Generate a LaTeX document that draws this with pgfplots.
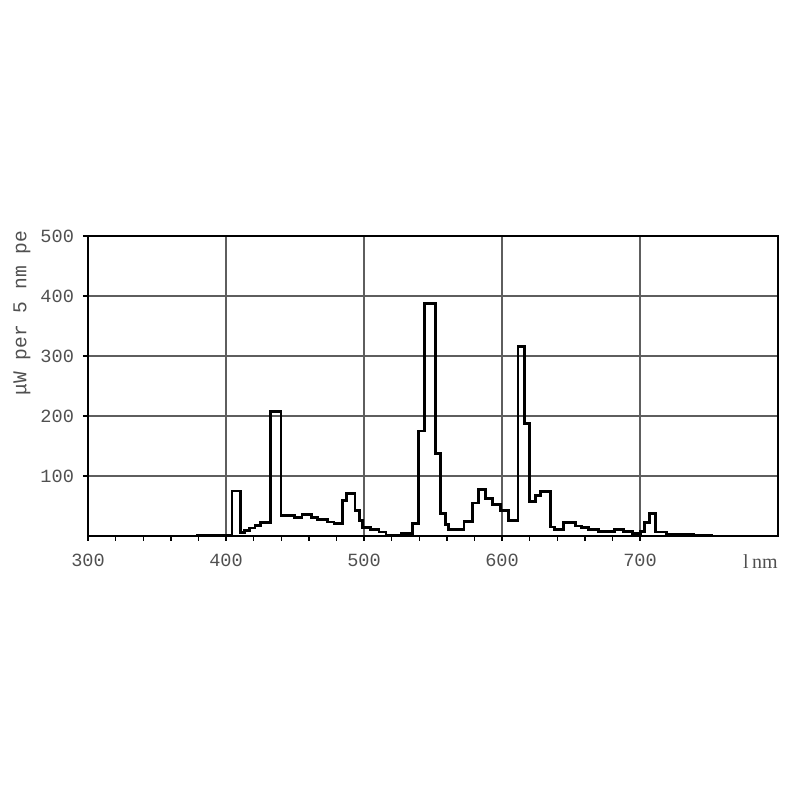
\documentclass[border=0pt]{standalone}
\usepackage{fontspec}
\setmainfont{Liberation Serif}
\newfontfamily\monof{Liberation Mono}
\usepackage{pgfplots}
\pgfplotsset{compat=1.18}
\definecolor{tickgray}{HTML}{505050}
\definecolor{gridgray}{HTML}{5E5E5E}
\begin{document}
\begin{tikzpicture}
\begin{axis}[name=ax, at={(0,0)}, anchor=south west,
  scale only axis, width=345pt, height=150pt,
  xmin=300, xmax=800, ymin=0, ymax=500,
  xtick={300,400,500,600,700}, minor x tick num=4,
  ytick={100,200,300,400,500},
  xtick pos=lower, ytick pos=left,
  grid=major, major grid style={gridgray, line width=0.6pt},
  axis line style={black, line width=1.2pt},
  tick style={black, line width=0.7pt}, tick align=outside,
  major tick length=2.5pt, minor tick length=2.5pt,
  /pgf/number format/assume math mode=true,
  ticklabel style={font=\monof\fontsize{9.3}{10}\selectfont, text=tickgray},
  xticklabel style={yshift=-3pt},
  yticklabel style={xshift=-1pt},
  ylabel={μW per 5 nm pe},
  ylabel style={at={(axis description cs:-0.0957,0.743)}, anchor=center,
    font=\monof\fontsize{9.8}{10}\selectfont, text=tickgray},
]
\addplot[const plot, black, line width=1.4pt] coordinates {
(300,0) (379.5,1.5) (404.3,75) (410.3,5.6) (413.2,9.5) (416.8,13.4) (421,17.8)
(424.8,22.3) (432.5,208) (439.8,34.5) (449.4,30.6) (455,35.6) (462,30.6)
(466.3,27.3) (473.5,23.4) (478.3,20.6) (484.2,59.5) (487.5,70.6) (493.5,42.8)
(497,26) (498.8,14) (504.8,11.2) (510.8,6.7) (516,1) (526.9,4) (535.2,20.6)
(539.5,175) (543.6,388) (552,137) (555.6,37) (559.2,19) (561.5,11.2)
(572.4,24.5) (578.4,55) (583.2,77.8) (588,62.3) (592.9,52.8) (598.9,42.8)
(604.9,26.2) (611.6,316) (616.4,187) (620,57.8) (624.1,67.8) (627.7,74.5)
(634.9,15) (638,11) (644.4,22.3) (653.4,16.7) (657.7,14) (662.5,10.6)
(669.7,7.8) (681.3,11.2) (687.8,7.8) (694.3,4) (700.6,7.8) (703,22.3)
(706.6,37.3) (711.2,6.7) (719.2,2.3) (738.5,0.7) (752,0) (800,0)
};
\end{axis}
\node[anchor=north east, text=tickgray, font=\fontsize{10}{11}\selectfont, inner sep=0pt]
  at ([yshift=-9pt]ax.south east) {l\,nm};
\path (ax.south west) ++(-44pt,-132pt) rectangle ([xshift=11pt,yshift=118pt]ax.north east);
\end{tikzpicture}
\end{document}
